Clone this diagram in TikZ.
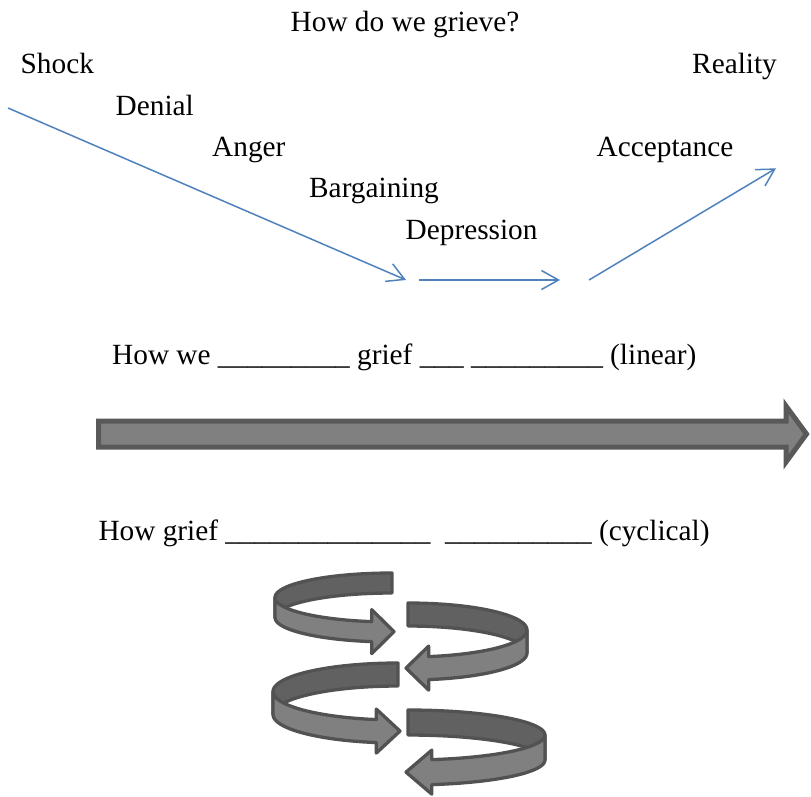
\documentclass[tikz,border=0pt]{standalone}
\usepackage{fontspec}
\setmainfont{Liberation Serif}
\usetikzlibrary{arrows.meta,positioning}
\definecolor{griefblue}{HTML}{4F81BD}

\begin{document}
\begin{tikzpicture}[x=1pt,y=-1pt,
  stage/.style={anchor=base west,inner sep=0pt,font=\fontsize{29.3}{35}\selectfont},
  path line/.style={draw=griefblue,line width=1.5pt,-{Straight Barb[length=17pt,width=19pt]}},
  big arrow/.style={fill=black!50,draw=black!65,line width=5pt,line join=miter},
  ribbon back/.style={fill=black!62,draw=black!68,line width=3.3pt,line join=round},
  ribbon front/.style={fill=black!50,draw=black!68,line width=3.3pt,line join=round}]

\useasboundingbox (0,0) rectangle (811,796);

\node [stage] (title) at (290.5,31.7) {How do we grieve?};
\node [stage] (shock) at (20.5,73) {Shock};
\node [stage] (denial) at (115.5,115) {Denial};
\node [stage] (anger) at (212,156.5) {Anger};
\node [stage] (bargaining) at (309,197) {Bargaining};
\node [stage] (depression) at (405.5,239.5) {Depression};
\node [stage] (acceptance) at (596.5,156.5) {Acceptance};
\node [stage] (reality) at (692,73) {Reality};

\coordinate (fall start) at (8,108);
\coordinate (fall end) at (406,280);
\coordinate (low start) at (419,280);
\coordinate (low end) at (560,280);
\coordinate (rise start) at (589,280);
\coordinate (rise end) at (776,168.3);
\draw [path line] (fall start) -- (fall end);
\draw [path line] (low start) -- (low end);
\draw [path line] (rise start) -- (rise end);

\node [stage] (linear) at (112,364.3) {How we \_\_\_\_\_\_\_\_\_ grief \_\_\_ \_\_\_\_\_\_\_\_\_ (linear)};
\draw [big arrow] (98.5,421) -- (786,421) -- (786,406) -- (806.5,434) -- (786,462) -- (786,447) -- (98.5,447) -- cycle;

\node [stage] (cyclical) at (98.3,540.7) {How grief \_\_\_\_\_\_\_\_\_\_\_\_\_\_\ \ \_\_\_\_\_\_\_\_\_\_ (cyclical)};

\foreach \cx/\cy/\a/\b/\h/\s in {392/597.5/117/24.5/20/1, 408/630/119/27/23/-1, 398/691.5/125/28.5/23/1, 408/735/137/25/25/-1}{
  \draw [ribbon back] plot [variable=\t,domain=270:180,samples=25] ({\cx+\s*\a*cos(\t)},{\cy+\b*sin(\t)})
    -- plot [variable=\t,domain=180:270,samples=25] ({\cx+\s*\a*cos(\t)},{\cy+\b*sin(\t)+\h}) -- cycle;
  \draw [ribbon front] plot [variable=\t,domain=180:100,samples=25] ({\cx+\s*\a*cos(\t)},{\cy+\b*sin(\t)})
    -- ({\cx+\s*\a*cos(100)},{\cy+\b*sin(100)+\h/2-22})
    -- ({\cx+\s*2},{\cy+\b*sin(100)+\h/2})
    -- ({\cx+\s*\a*cos(100)},{\cy+\b*sin(100)+\h/2+22})
    -- plot [variable=\t,domain=100:180,samples=25] ({\cx+\s*\a*cos(\t)},{\cy+\b*sin(\t)+\h}) -- cycle;
}

\end{tikzpicture}
\end{document}
